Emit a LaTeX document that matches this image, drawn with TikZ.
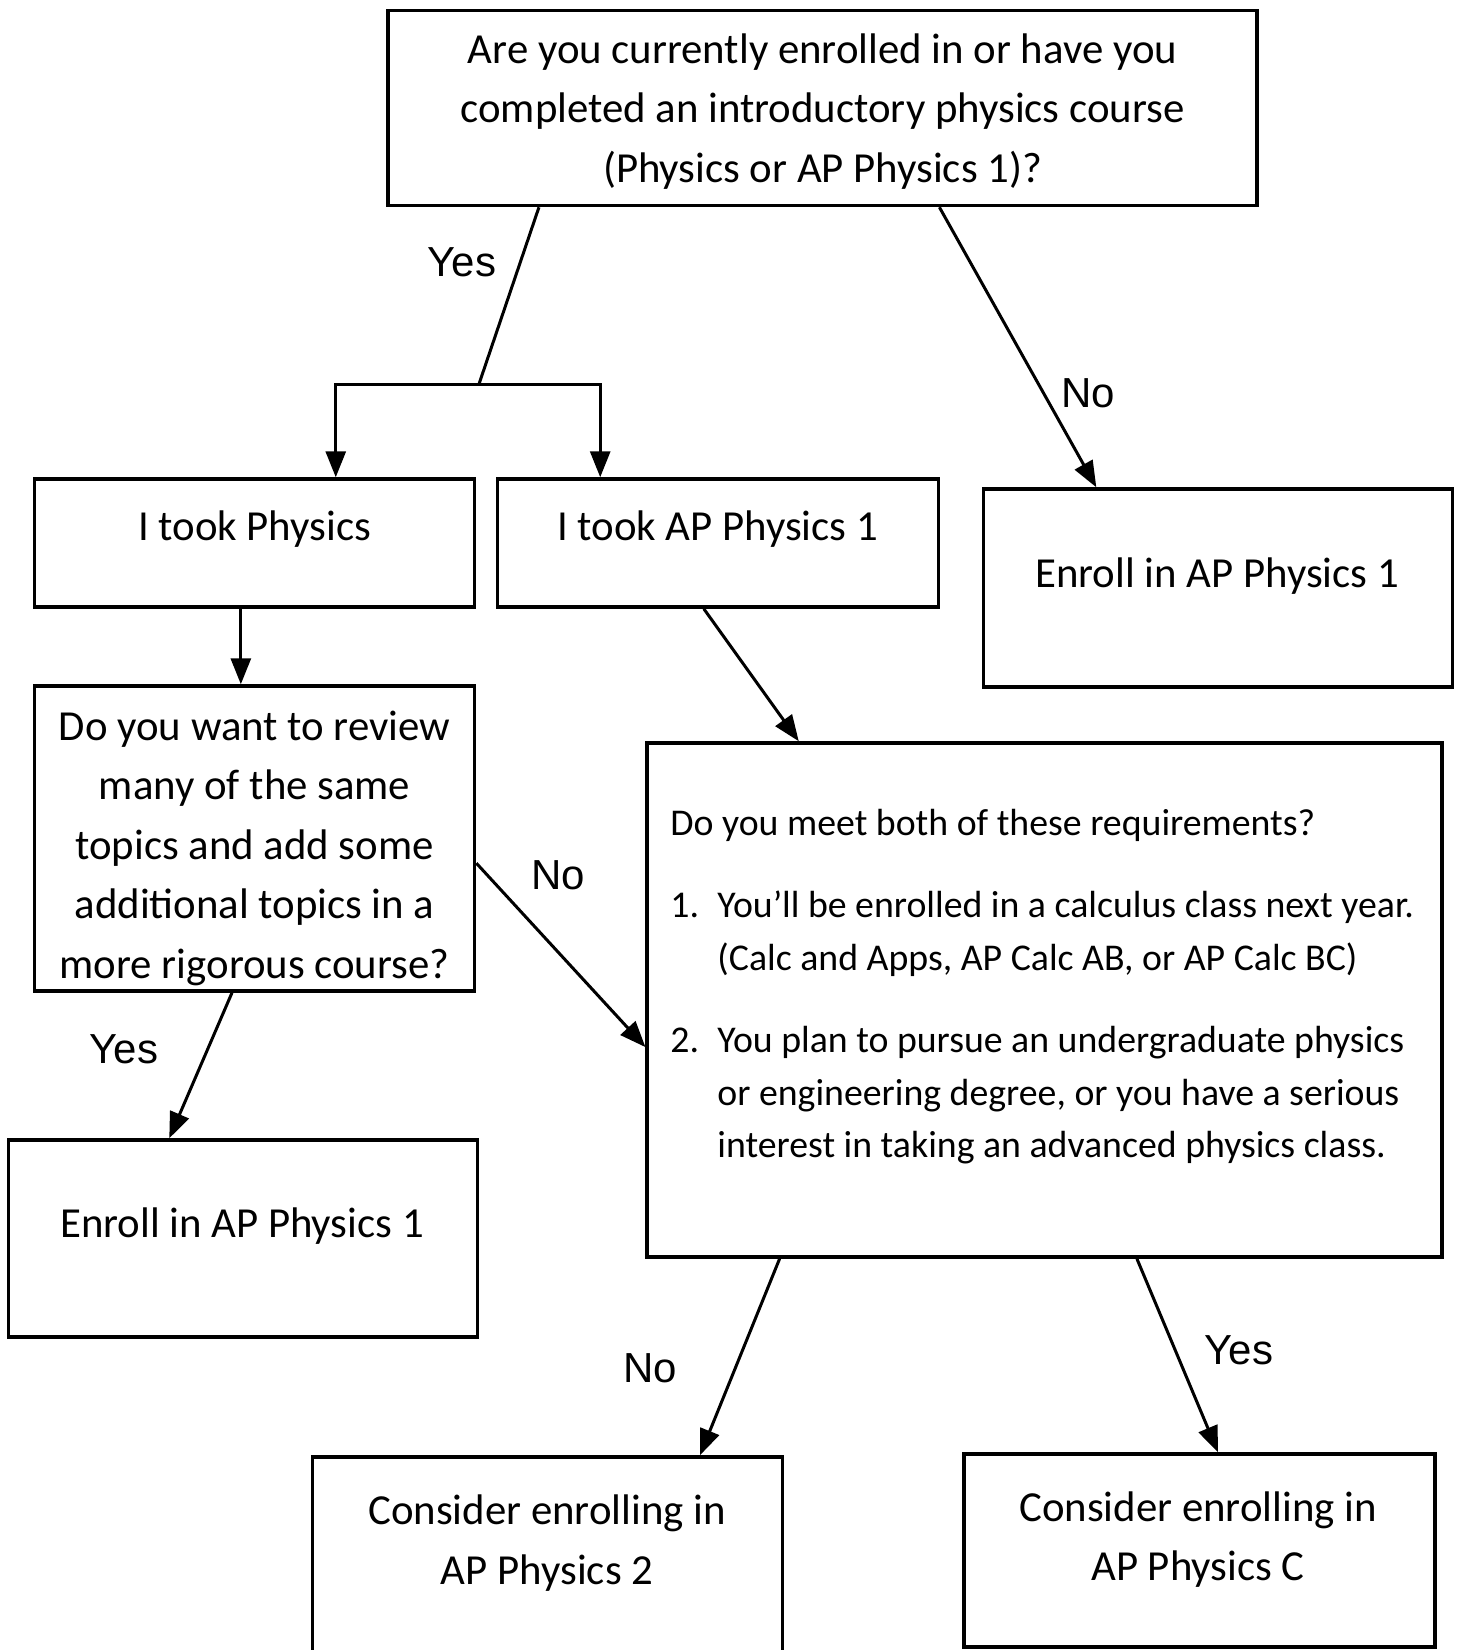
\documentclass[tikz,border=0pt]{standalone}
\usepackage{fontspec}
\setmainfont{Carlito}
\newfontfamily\labfont{Liberation Sans}
\usetikzlibrary{arrows.meta,calc}
\begin{document}
\begin{tikzpicture}[x=0.5pt,y=-0.5pt,
        box/.style={draw,line width=1.75pt,inner sep=0pt},
        txt/.style={align=center,font=\fontsize{21.4}{29.75}\selectfont,inner sep=0pt},
        lab/.style={font=\labfont\fontsize{21}{25}\selectfont,inner sep=0pt},
        arr/.style={line width=1.5pt,-{Triangle[length=13pt,width=10pt]}}]
        \clip (0,0) rectangle (1457,1650);
        \fill[white] (0,0) rectangle (1457,1650);
        \node[box,minimum width=434.5pt,minimum height=97.5pt] (q1) at (822.5,108) {};
        \node[box,minimum width=220pt,minimum height=64pt] (phys) at (254.6,543) {};
        \node[box,minimum width=220.5pt,minimum height=64pt] (ap1) at (718,543) {};
        \node[box,minimum width=234.5pt,minimum height=99pt] (enr1) at (1218.2,588) {};
        \node[box,minimum width=220pt,minimum height=152.5pt] (review) at (254.6,838.5) {};
        \node[box,minimum width=234.5pt,minimum height=98.5pt] (enr2) at (243,1238.5) {};
        \node[box,minimum width=397.5pt,minimum height=257pt] (req) at (1044.7,1000) {};
        \node[box,minimum width=235pt,minimum height=121.5pt] (ap2) at (547.5,1578.5) {};
        \node[box,minimum width=235.5pt,minimum height=96.4pt] (apc) at (1199.5,1550.4) {};
        \node[txt] (tq1) at (822.5,111.5) {Are you currently enrolled in or have you\\completed an introductory physics course\\(Physics or AP Physics 1)?};
        \node[txt] (tphys) at (254.6,529) {I took Physics};
        \node[txt] (tap1) at (717.5,529) {I took AP Physics 1};
        \node[txt] (tenr1) at (1217,576) {Enroll in AP Physics 1};
        \node[txt] (treview) at (254.6,848) {Do you want to review\\many of the same\\topics and add some\\additional topics in a\\more rigorous course?};
        \node[txt] (tenr2) at (242,1226) {Enroll in AP Physics 1};
        \node[txt] (tap2) at (547,1543) {Consider enrolling in\\AP Physics 2};
        \node[txt] (tapc) at (1198,1539.5) {Consider enrolling in\\AP Physics C};
        \node[txt,align=left,anchor=west,font=\fontsize{18.9}{26.3}\selectfont] (treq) at (670,987) {Do you meet both of these requirements?\\[14.7pt]
            \makebox[23.5pt][l]{1.}You’ll be enrolled in a calculus class next year.\\
            \hspace*{23.5pt}(Calc and Apps, AP Calc AB, or AP Calc BC)\\[14.7pt]
            \makebox[23.5pt][l]{2.}You plan to pursue an undergraduate physics\\
            \hspace*{23.5pt}or engineering degree, or you have a serious\\
            \hspace*{23.5pt}interest in taking an advanced physics class.};
        \coordinate (fork) at (479,384);
        \draw[line width=1.5pt] ($(q1.south west)!.175!(q1.south east)$) -- (fork);
        \draw[arr] (fork) -| ($(phys.north west)!.683!(phys.north east)$);
        \draw[arr] (fork) -| ($(ap1.north west)!.235!(ap1.north east)$);
        \draw[arr] ($(q1.south west)!.634!(q1.south east)$) -- ($(enr1.north west)!.242!(enr1.north east)$);
        \draw[arr] ($(phys.south west)!.469!(phys.south east)$) -- ($(review.north west)!.469!(review.north east)$);
        \draw[arr] ($(review.south west)!.449!(review.south east)$) -- ($(enr2.north west)!.344!(enr2.north east)$);
        \draw[arr] ($(review.north east)!.58!(review.south east)$) -- ($(req.north west)!.591!(req.south west)$);
        \draw[arr] ($(ap1.south west)!.468!(ap1.south east)$) -- ($(req.north west)!.192!(req.north east)$);
        \draw[arr] ($(req.south west)!.168!(req.south east)$) -- ($(ap2.north west)!.822!(ap2.north east)$);
        \draw[arr] ($(req.south west)!.6155!(req.south east)$) -- ($(apc.north west)!.539!(apc.north east)$);
        \node[lab] (yes1) at (462,262) {Yes};
        \node[lab] (no1) at (1088,393) {No};
        \node[lab] (no2) at (558,875) {No};
        \node[lab] (yes2) at (124,1049) {Yes};
        \node[lab] (no3) at (650,1368) {No};
        \node[lab] (yes3) at (1239,1350) {Yes};
    \end{tikzpicture}
\end{document}
